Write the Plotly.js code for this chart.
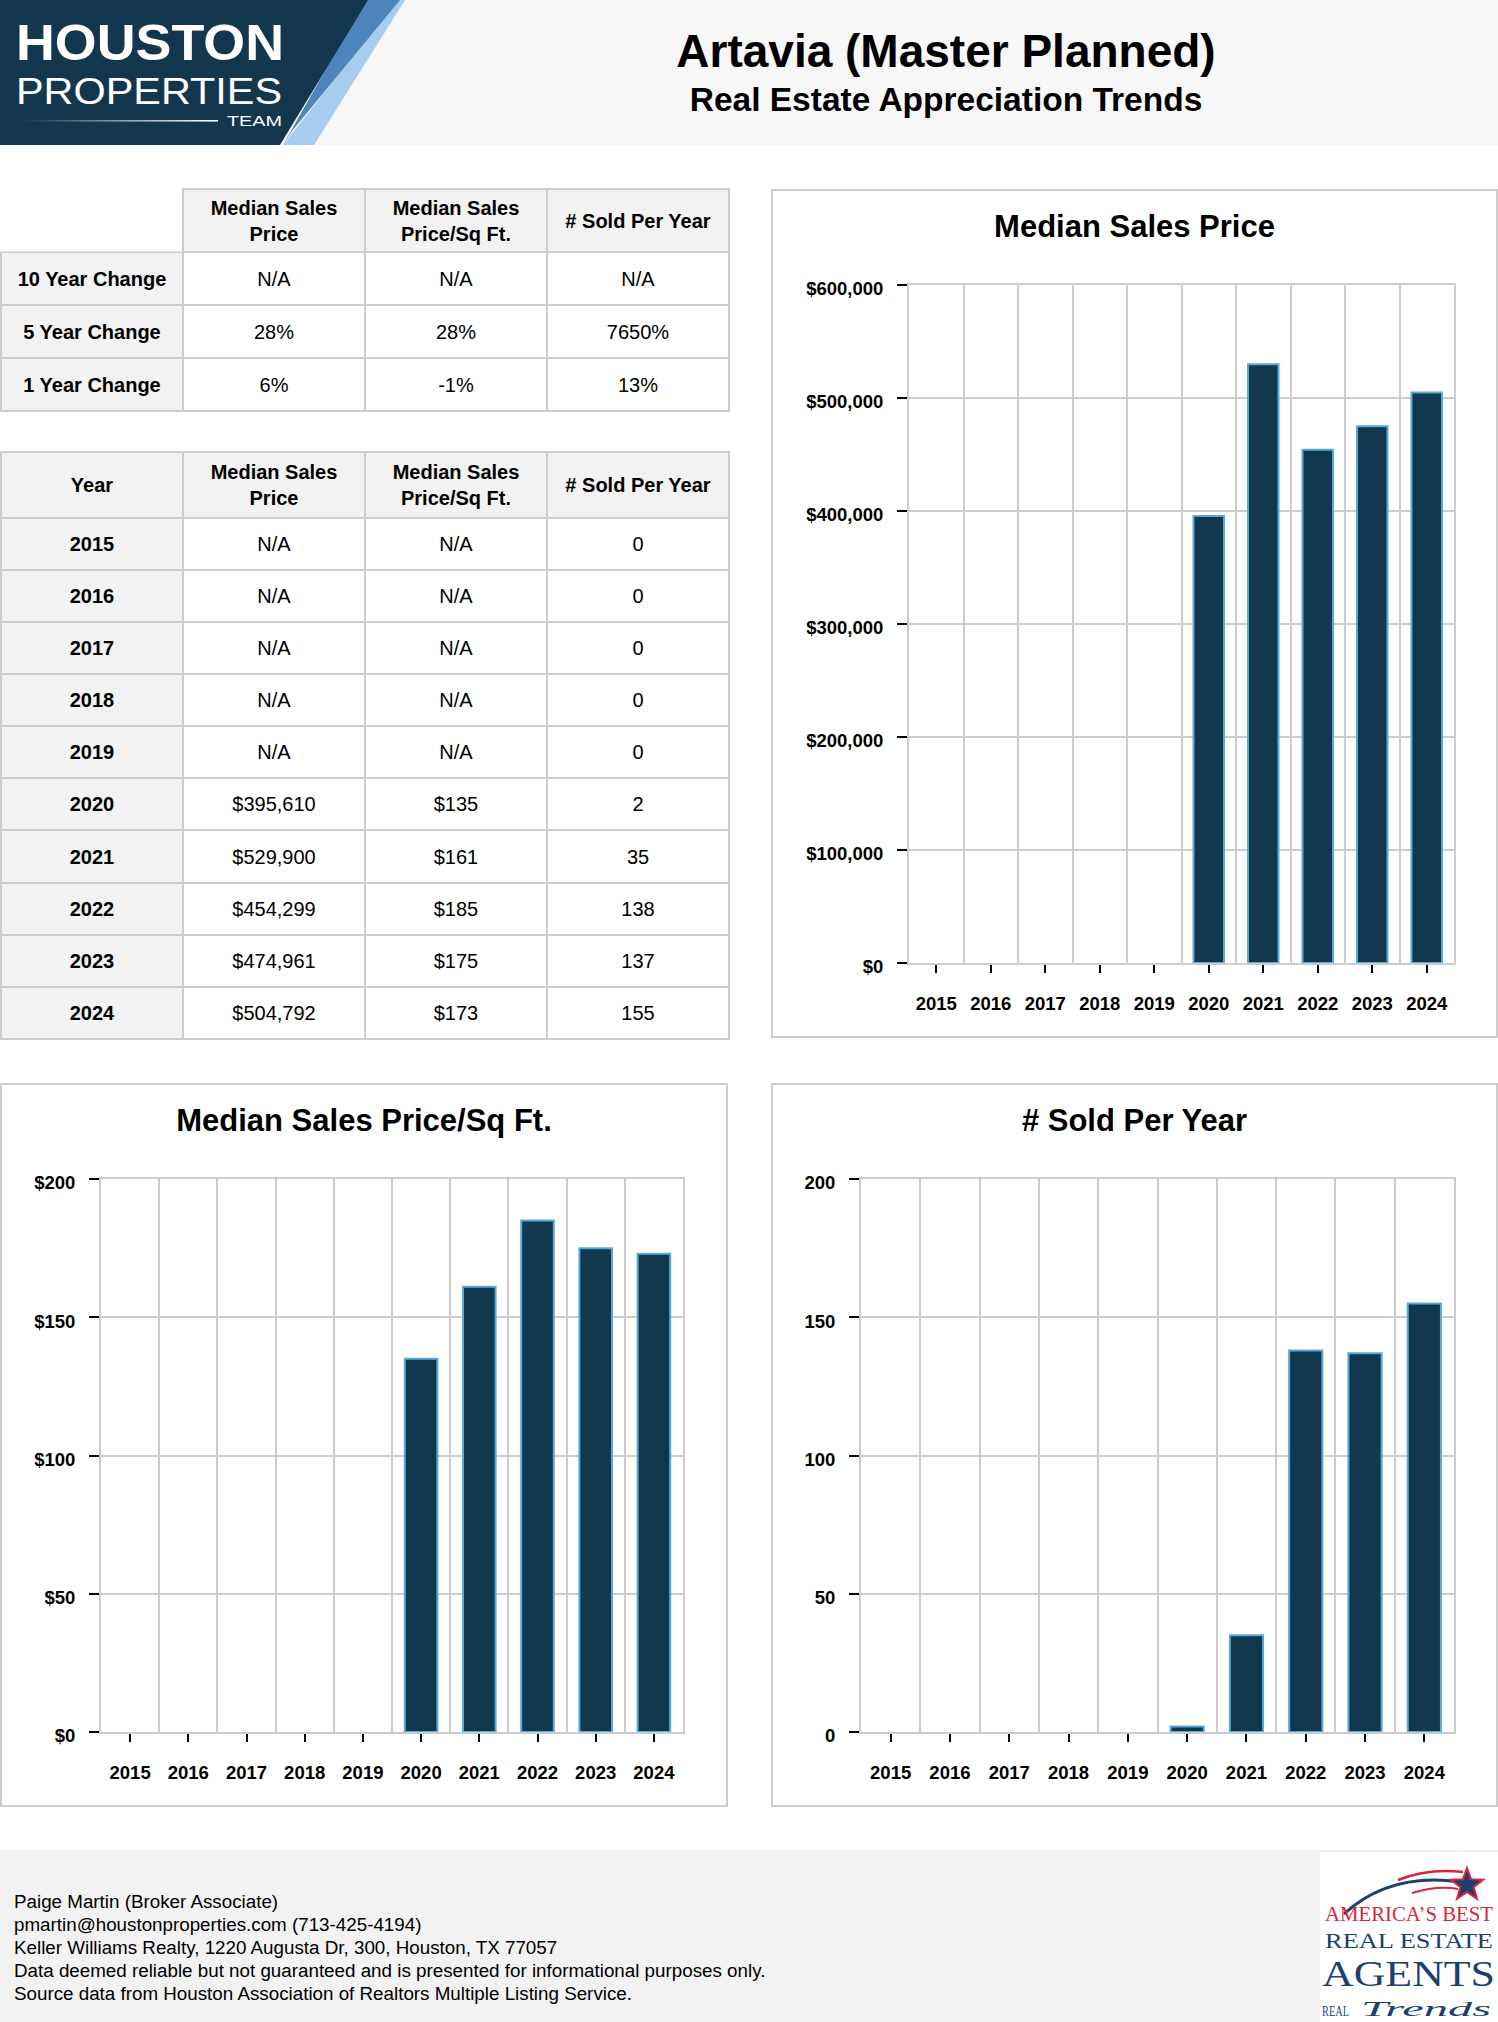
<!DOCTYPE html>
<html>
<head>
<meta charset="utf-8">
<script src="https://cdn.plot.ly/plotly-3.0.1.min.js"></script>
<style>
  html, body { margin: 0; padding: 0; background: #fff; }
  #page { position: relative; width: 1498px; height: 2022px; overflow: hidden;
          font-family: "Liberation Sans", Arial, Helvetica, sans-serif; color: #000; }
  #header { position: absolute; left: 0; top: 0; width: 1498px; height: 145px; background: #f7f7f7; }
  .head { position: absolute; left: 546px; width: 800px; text-align: center; font-weight: bold;
          line-height: 1; white-space: nowrap; }
  .panel { position: absolute; border: 2px solid #ccc; box-sizing: border-box; background: #fff; }
  .panel > div { position: absolute; left: 0; top: 0; }
  .tbl { position: absolute; }
  #footer { position: absolute; left: 0; top: 1850px; width: 1498px; height: 172px; background: #f2f2f2; }
  #footText { position: absolute; left: 14px; top: 40px; font-size: 18.8px; line-height: 23px; white-space: nowrap; }
</style>
</head>
<body>
<div id="page">
  <div id="header">
    <svg width="420" height="145" style="position:absolute;left:0;top:0">
      <defs>
        <linearGradient id="fade" x1="0" x2="1" y1="0" y2="0">
          <stop offset="0" stop-color="#fff" stop-opacity="0"/>
          <stop offset="1" stop-color="#fff" stop-opacity="1"/>
        </linearGradient>
      </defs>
      <polygon points="397,0 405,0 314,145 283,145" fill="#a6cdee"/>
      <polygon points="365,0 400,0 292,131 283,145" fill="#4f84bc"/>
      <polygon points="0,0 368,0 280,145 0,145" fill="#13374f"/>
      <g font-family="'Liberation Sans', Arial, sans-serif" fill="#fff">
        <text x="16" y="60" font-weight="700" font-size="50" textLength="268" lengthAdjust="spacingAndGlyphs">HOUSTON</text>
        <text x="16" y="104" font-weight="400" font-size="36" textLength="266" lengthAdjust="spacingAndGlyphs">PROPERTIES</text>
        <text x="227" y="126" font-weight="400" font-size="15" textLength="55" lengthAdjust="spacingAndGlyphs">TEAM</text>
      </g>
      <rect x="22" y="120" width="196" height="1.6" fill="url(#fade)"/>
    </svg>
    <div class="head" id="mainTitle" style="top:28px;font-size:46px"></div>
    <div class="head" id="subTitle" style="top:83px;font-size:33.5px"></div>
  </div>

  <div class="tbl" id="changeTable" style="left:0;top:188px"></div>
  <div class="tbl" id="yearTable" style="left:0;top:451px"></div>

  <div class="panel" style="left:771px;top:189px;width:727px;height:849px"><div id="chartPrice"></div></div>
  <div class="panel" style="left:0;top:1083px;width:728px;height:724px"><div id="chartSqft"></div></div>
  <div class="panel" style="left:771px;top:1083px;width:727px;height:724px"><div id="chartSold"></div></div>

  <div id="footer">
    <div id="footText"></div>
    <svg width="178" height="170" style="position:absolute;left:1320px;top:2px">
      <rect width="178" height="170" fill="#fff"/>
      <path d="M 24 62 Q 70 20 140 30" stroke="#1d3f6e" stroke-width="3" fill="none"/>
      <path d="M 78 28 Q 108 16 143 20" stroke="#d9263b" stroke-width="2.5" fill="none"/>
      <path d="M 92 41 Q 118 33 138 37" stroke="#d9263b" stroke-width="2" fill="none"/>
      <polygon points="147,16 151.1,27.3 163.2,27.7 153.7,35.2 157,46.8 147,40 137,46.8 140.3,35.2 130.8,27.7 142.9,27.3"
               fill="#1d3f6e" stroke="#d9263b" stroke-width="2"/>
      <g font-family="'Liberation Serif', 'DejaVu Serif', serif">
        <text x="5" y="69" fill="#d9263b" font-size="20" textLength="168" lengthAdjust="spacingAndGlyphs">AMERICA’S BEST</text>
        <text x="5" y="96" fill="#1d3f6e" font-size="22" textLength="168" lengthAdjust="spacingAndGlyphs">REAL ESTATE</text>
        <text x="2" y="134" fill="#1d3f6e" font-size="36" textLength="173" lengthAdjust="spacingAndGlyphs">AGENTS</text>
        <text x="2" y="164" fill="#1d3f6e" font-size="14" textLength="27" lengthAdjust="spacingAndGlyphs">REAL</text>
        <text x="41" y="164" fill="#1d3f6e" font-size="22" font-style="italic" textLength="130" lengthAdjust="spacingAndGlyphs">Trends</text>
      </g>
    </svg>
  </div>
</div>

<script>
// page text
var pageTitle = "Artavia (Master Planned)";
var pageSubtitle = "Real Estate Appreciation Trends";
var footerLines = [
  "Paige Martin (Broker Associate)",
  "pmartin@houstonproperties.com (713-425-4194)",
  "Keller Williams Realty, 1220 Augusta Dr, 300, Houston, TX 77057",
  "Data deemed reliable but not guaranteed and is presented for informational purposes only.",
  "Source data from Houston Association of Realtors Multiple Listing Service."
];

// yearly data
var years = [2015, 2016, 2017, 2018, 2019, 2020, 2021, 2022, 2023, 2024];
var medianPrice = [null, null, null, null, null, 395610, 529900, 454299, 474961, 504792];
var pricePerSqft = [null, null, null, null, null, 135, 161, 185, 175, 173];
var soldPerYear = [0, 0, 0, 0, 0, 2, 35, 138, 137, 155];

// change table
var changeLabels = ["10 Year Change", "5 Year Change", "1 Year Change"];
var changePrice = ["N/A", "28%", "6%"];
var changeSqft = ["N/A", "28%", "-1%"];
var changeSold = ["N/A", "7650%", "13%"];

var columnHeads = ["Median Sales<br>Price", "Median Sales<br>Price/Sq Ft.", "# Sold Per Year"];
var chartTitles = ["Median Sales Price", "Median Sales Price/Sq Ft.", "# Sold Per Year"];

var FONT = '"Liberation Sans", Arial, Helvetica, sans-serif';

document.getElementById("mainTitle").textContent = pageTitle;
document.getElementById("subTitle").textContent = pageSubtitle;
document.getElementById("footText").innerHTML = footerLines.join("<br>");

function bold(s) {
  if (!s) return "";
  return s.split("<br>").map(function (p) { return "<b>" + p + "</b>"; }).join("<br>");
}

function money(v) {
  return v == null ? "N/A" : "$" + v.toLocaleString("en-US");
}

function drawTable(id, firstHead, rows, headH, w, h) {
  var xEdges = [0, 1, 2, 3, 4];
  var yEdges = [0, headH];
  for (var i = 1; i <= rows.length; i++) yEdges.push(headH + i);
  var total = yEdges[yEdges.length - 1];

  var z = [[firstHead ? 1 : null, 1, 1, 1]];
  var text = [[bold(firstHead)].concat(columnHeads.map(bold))];
  rows.forEach(function (r) {
    z.push([1, 0, 0, 0]);
    text.push([bold(r[0]), r[1], r[2], r[3]]);
  });

  var pw = w - 2, ph = h - 2;
  var shapes = [];
  if (!firstHead) {
    // blank corner above the row labels
    shapes.push({
      type: "rect", xref: "paper", yref: "paper", layer: "above",
      x0: -2 / pw, x1: 0.25 - 1 / pw,
      y0: 1 - headH / total + 1 / ph, y1: 1 + 2 / ph,
      fillcolor: "#fff", line: { width: 0 }
    });
  }

  var ax = {
    showgrid: false, zeroline: false, showticklabels: false, ticks: "",
    showline: true, mirror: true, linecolor: "#ccc", linewidth: 1, fixedrange: true
  };
  Plotly.newPlot(id, [{
    type: "heatmap", x: xEdges, y: yEdges, z: z, text: text,
    texttemplate: "%{text}",
    textfont: { family: FONT, size: 20, color: "#000" },
    colorscale: [[0, "#ffffff"], [1, "#f2f2f2"]], zmin: 0, zmax: 1,
    showscale: false, xgap: 2, ygap: 2, hoverinfo: "skip"
  }], {
    width: w, height: h, margin: { l: 1, r: 1, t: 1, b: 1 },
    paper_bgcolor: "rgba(0,0,0,0)", plot_bgcolor: "#ccc",
    xaxis: Object.assign({ range: [0, 4] }, ax),
    yaxis: Object.assign({ range: [total, 0] }, ax),
    shapes: shapes
  }, { displayModeBar: false, staticPlot: true });
}

var changeRows = changeLabels.map(function (l, i) {
  return [l, changePrice[i], changeSqft[i], changeSold[i]];
});
drawTable("changeTable", "", changeRows, 1.2, 730, 224);

var yearRows = years.map(function (y, i) {
  return [String(y), money(medianPrice[i]), money(pricePerSqft[i]), String(soldPerYear[i])];
});
drawTable("yearTable", "Year", yearRows, 1.26, 730, 589);

function drawBars(id, values, title, w, h, margin, yMax, yStep, prefix) {
  var trace = {
    type: "bar", x: years, y: values, width: 0.56,
    marker: {
      color: "#12384f",
      // no outline on empty (zero) years
      line: { color: "#5aaad6", width: values.map(function (v) { return v ? 2 : 0; }) }
    },
    hoverinfo: "skip"
  };
  var tickFont = { family: FONT, size: 18.5, weight: "bold", color: "#000" };
  var layout = {
    width: w, height: h, margin: margin, showlegend: false,
    paper_bgcolor: "#fff", plot_bgcolor: "#fff",
    font: { family: FONT, color: "#000" },
    title: {
      text: title, font: { family: FONT, size: 31, weight: "bold", color: "#000" },
      x: 0.5, xanchor: "center", xref: "container",
      y: 1 - 35 / h, yanchor: "middle", yref: "container"
    },
    xaxis: {
      range: [years[0] - 0.5, years[years.length - 1] + 0.5],
      tickmode: "array", tickvals: years, ticktext: years.map(String),
      ticks: "outside", ticklen: 8, tickwidth: 2, tickcolor: "#000",
      tickfont: tickFont, ticklabelstandoff: 15,
      showgrid: false, zeroline: false,
      showline: true, mirror: true, linecolor: "#ccc", linewidth: 2,
      minor: { tickmode: "linear", tick0: years[0] - 0.5, dtick: 1, ticks: "",
               showgrid: true, gridcolor: "#ccc", gridwidth: 2 },
      fixedrange: true
    },
    yaxis: {
      range: [0, yMax], tickmode: "linear", tick0: 0, dtick: yStep,
      tickprefix: prefix, tickformat: ",d",
      ticks: "outside", ticklen: 10, tickwidth: 2, tickcolor: "#000",
      tickfont: tickFont, ticklabelstandoff: 10, ticklabelshift: 4,
      showgrid: true, gridcolor: "#ccc", gridwidth: 2, zeroline: false,
      showline: true, mirror: true, linecolor: "#ccc", linewidth: 2,
      fixedrange: true
    }
  };
  Plotly.newPlot(id, [trace], layout, { displayModeBar: false, staticPlot: true });
}

drawBars("chartPrice", medianPrice, chartTitles[0], 723, 845, { l: 136, r: 42, t: 94, b: 73 }, 600000, 100000, "$");
drawBars("chartSqft", pricePerSqft, chartTitles[1], 724, 720, { l: 99, r: 43, t: 94, b: 73 }, 200, 50, "$");
drawBars("chartSold", soldPerYear, chartTitles[2], 723, 720, { l: 88, r: 42, t: 94, b: 73 }, 200, 50, "");
</script>
</body>
</html>
